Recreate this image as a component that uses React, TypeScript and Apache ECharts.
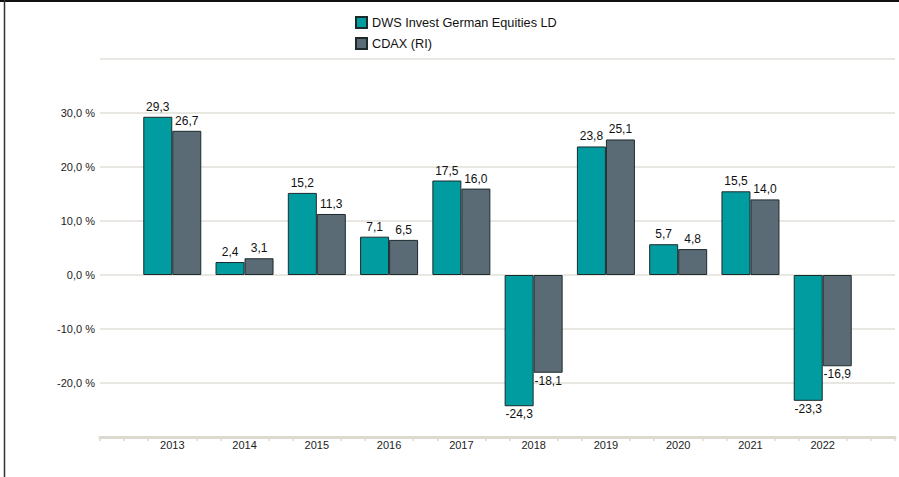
import React, { useEffect, useRef } from "react";
import * as echarts from "echarts";

const years = ["2013", "2014", "2015", "2016", "2017", "2018", "2019", "2020", "2021", "2022"];
const fundValues = [29.3, 2.4, 15.2, 7.1, 17.5, -24.3, 23.8, 5.7, 15.5, -23.3];
const indexValues = [26.7, 3.1, 11.3, 6.5, 16.0, -18.1, 25.1, 4.8, 14.0, -16.9];
const seriesNames = ["DWS Invest German Equities LD", "CDAX (RI)"];
const yTicks = [-30, -20, -10, 0, 10, 20, 30, 40];

const FONT = "Liberation Sans, Arial, sans-serif";

function fmt(v: number) {
  return v.toFixed(1).replace(".", ",");
}

export default function App() {
  const ref = useRef<HTMLDivElement>(null);
  useEffect(() => {
    if (!ref.current) return;
    const chart = echarts.init(ref.current, undefined, { renderer: "svg" });
    // sub-positions: 3 ticks per category, categories at positions 3,6,...,30 of 0..33
    const subCats: string[] = [];
    for (let i = 0; i <= 33; i++) {
      const k = i / 3 - 1;
      subCats.push(i % 3 === 0 && k >= 0 && k < years.length ? years[k] : "");
    }
    const mk = (vals: number[]) =>
      vals.map((v, i) => ({
        value: [i + 1, v],
        label: { position: v >= 0 ? "top" : "bottom", distance: v >= 0 ? 4 : 2 },
      }));
    const labelCfg = {
      show: true,
      fontSize: 12,
      color: "#111",
      fontFamily: FONT,
      formatter: (p: any) => fmt(p.value[1]),
    };
    chart.setOption({
      animation: false,
      backgroundColor: "#fff",
      textStyle: { fontFamily: FONT },
      legend: {
        data: seriesNames,
        orient: "vertical",
        left: 350,
        top: 11,
        itemWidth: 11,
        itemHeight: 11,
        itemGap: 8,
        icon: "rect",
        textStyle: { fontSize: 12.7, color: "#111", fontFamily: FONT },
      },
      grid: { left: 100, right: 4, top: 59, bottom: 40, containLabel: false },
      xAxis: [
        { type: "value", min: 0, max: 11, show: false },
        {
          type: "category",
          data: subCats,
          boundaryGap: false,
          position: "bottom",
          axisLine: { show: true, onZero: false, lineStyle: { color: "#dcd9cf", width: 3 } },
          axisTick: {
            show: true,
            length: 4,
            lineStyle: { color: "#dcd9cf", width: 1.5 },
            interval: (i: number) => i % 3 !== 0 || i === 0 || i === 33,
          },
          axisLabel: { interval: 0, fontSize: 11, color: "#222", fontFamily: FONT, margin: 2 },
          splitLine: { show: false },
        },
      ],
      yAxis: {
        type: "value",
        min: yTicks[0],
        max: yTicks[yTicks.length - 1],
        interval: 10,
        axisLine: { show: false },
        axisTick: { show: false },
        axisLabel: {
          fontSize: 11,
          color: "#222",
          fontFamily: FONT,
          margin: 5,
          formatter: (v: number) => (v === 40 || v === -30 ? "" : fmt(v) + " %"),
        },
        splitLine: {
          show: true,
          lineStyle: { color: "#e2dfd7", width: 1.5 },
          showMinLine: false,
        },
      },
      graphic: [
        { type: "line", shape: { x1: 0, y1: 1, x2: 899, y2: 1 }, style: { stroke: "#111", lineWidth: 2 } },
        { type: "line", shape: { x1: 4.5, y1: 0, x2: 4.5, y2: 477 }, style: { stroke: "#333", lineWidth: 1.5 } },
      ],
      series: [
        {
          name: seriesNames[0],
          type: "bar",
          xAxisIndex: 0,
          data: mk(fundValues),
          barWidth: 29,
          barGap: "0%",
          itemStyle: { color: "#009ca0", borderColor: "#1c2a2c", borderWidth: 1 },
          label: labelCfg,
        },
        {
          name: seriesNames[1],
          type: "bar",
          xAxisIndex: 0,
          data: mk(indexValues),
          barWidth: 29,
          barGap: "0%",
          itemStyle: { color: "#5b6b76", borderColor: "#1c2a2c", borderWidth: 1 },
          label: labelCfg,
        },
      ],
    });
    return () => chart.dispose();
  }, []);
  return (
    <div
      ref={ref}
      style={{ position: "fixed", left: 0, top: 0, width: 899, height: 477 }}
    />
  );
}
